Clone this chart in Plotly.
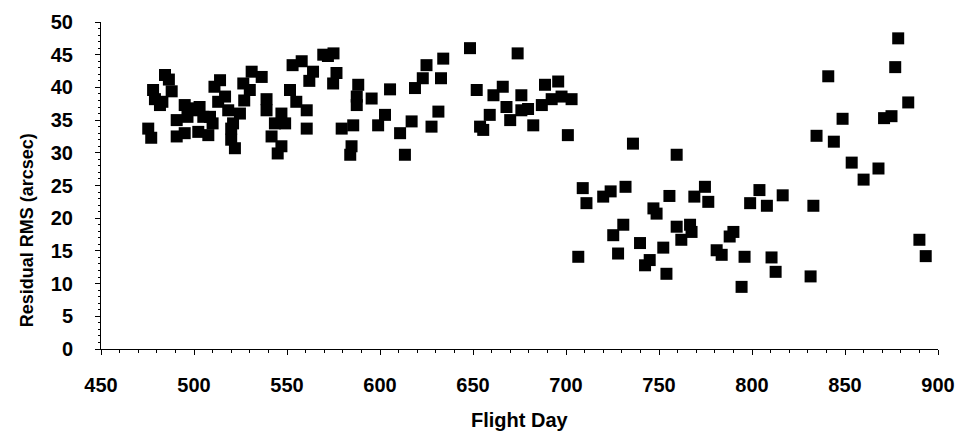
import plotly.graph_objects as go

# Flight day (x) and residual RMS in arcsec (y)
flight_day = [
    475.4, 477, 478, 479, 481.7, 484.4, 486.5, 488, 483, 490.7, 490.7, 495, 495, 496.5, 500.5,
    502.3, 503, 505, 507.7, 508.6, 511, 514, 516.7, 518.4, 520, 520, 522, 521, 524.7, 526.5,
    530, 531, 536.4, 539, 539, 541.7, 543.5, 545, 547, 547, 549, 551.6, 553, 555, 557.9,
    560.6, 560.6, 564, 562, 569.5, 575, 576.6, 574.8, 572, 579.4, 585.6, 584.7, 584, 587.5,
    588.3, 587.5, 595.5, 599, 602.7, 605.4, 610.8, 613.4, 617, 618.8, 623, 625, 627.7, 631.4,
    632.8, 634, 648.4, 652, 653.8, 655.5, 659, 661, 666, 668, 670, 674, 676, 676, 679.6,
    682.4, 687, 688.7, 692.3, 695.8, 697.6, 703, 701, 513, 510, 498, 527,
    706.6, 709, 711, 720, 724, 725.4, 728, 730.8, 732, 736, 739.8, 742.5, 745, 747, 748.7,
    752.3, 754, 755.6, 759.5, 759.5, 762, 766.7, 767.5, 769, 774.7, 776.5, 781, 783.7, 788,
    790, 794.4, 796, 799, 804, 808, 810.5, 812.7, 816.5, 831.5, 833, 834.7, 841, 844, 848.7,
    853.6, 860, 868, 871, 875, 877, 878.6, 884, 890, 893.4,
]
residual_rms = [
    33.7, 32.3, 39.6, 38.2, 37.3, 41.9, 41.2, 39.4, 37.8, 35.0, 32.5, 37.3, 33.0, 35.5, 36.5,
    33.2, 37.0, 35.5, 32.7, 35.5, 40.1, 41.1, 38.6, 36.5, 33.7, 32.0, 30.7, 34.5, 36.0, 40.6,
    39.6, 42.4, 41.6, 38.2, 36.5, 32.5, 34.5, 29.9, 31.0, 36.0, 34.5, 39.6, 43.4, 37.8, 44.0,
    36.5, 33.7, 42.4, 41.0, 45.0, 45.2, 42.2, 40.6, 44.8, 33.7, 34.2, 31.0, 29.7, 38.6,
    40.4, 37.3, 38.3, 34.2, 35.8, 39.7, 33.0, 29.7, 34.8, 39.9, 41.4, 43.4, 34.0, 36.3,
    41.4, 44.4, 46.0, 39.6, 34.0, 33.5, 35.8, 38.8, 40.1, 37.0, 35.0, 45.2, 38.8, 36.5, 36.7,
    34.2, 37.3, 40.4, 38.2, 40.9, 38.6, 38.2, 32.7, 37.8, 34.5, 36.8, 38.0,
    14.1, 24.6, 22.3, 23.3, 24.1, 17.4, 14.6, 19.0, 24.8, 31.4, 16.2, 12.8, 13.6, 21.5, 20.7,
    15.5, 11.5, 23.4, 29.7, 18.7, 16.7, 19.0, 17.9, 23.3, 24.8, 22.5, 15.1, 14.4, 17.2,
    17.9, 9.5, 14.1, 22.3, 24.3, 21.9, 14.0, 11.8, 23.5, 11.1, 21.9, 32.6, 41.7, 31.7, 35.2,
    28.5, 25.9, 27.6, 35.3, 35.6, 43.1, 47.5, 37.7, 16.7, 14.2,
]

x_ticks = [450, 500, 550, 600, 650, 700, 750, 800, 850, 900]
y_ticks = [0, 5, 10, 15, 20, 25, 30, 35, 40, 45, 50]

FONT = "Liberation Sans, Arial, sans-serif"

fig = go.Figure(
    go.Scatter(
        x=flight_day,
        y=residual_rms,
        mode="markers",
        marker=dict(symbol="square", size=12, color="black", line=dict(width=0)),
        showlegend=False,
    )
)

# The page body adds an 8px offset, so the figure is sized to fit the window.
fig.update_layout(
    width=956,
    height=428,
    margin=dict(l=93, r=26, t=14, b=87),
    paper_bgcolor="white",
    plot_bgcolor="white",
    font=dict(family=FONT, color="black"),
    xaxis=dict(
        range=[450, 900],
        tickvals=x_ticks,
        ticktext=[str(v) for v in x_ticks],
        automargin=False,
        showgrid=False,
        zeroline=False,
        showline=True,
        linecolor="black",
        linewidth=1,
        ticks="outside",
        ticklen=5,
        tickcolor="black",
        tickfont=dict(family=FONT, size=20, weight="bold"),
        ticklabelstandoff=13,
        minor=dict(dtick=10, ticks="outside", ticklen=3, tickcolor="black"),
    ),
    yaxis=dict(
        range=[0, 50],
        tickvals=y_ticks,
        ticktext=[str(v) for v in y_ticks],
        automargin=False,
        showgrid=False,
        zeroline=False,
        showline=True,
        linecolor="black",
        linewidth=1,
        ticks="outside",
        ticklen=5,
        tickcolor="black",
        tickfont=dict(family=FONT, size=20, weight="bold"),
        ticklabelstandoff=18,
        minor=dict(dtick=1, ticks="outside", ticklen=2, tickcolor="black"),
    ),
    annotations=[
        dict(
            text="Residual RMS (arcsec)",
            xref="paper", yref="paper",
            x=-0.088, y=0.364,
            xanchor="center", yanchor="middle",
            textangle=-90,
            showarrow=False,
            font=dict(family=FONT, size=18, weight="bold", color="black"),
        ),
        dict(
            text="Flight Day",
            xref="paper", yref="paper",
            x=0.5, y=-0.217,
            xanchor="center", yanchor="middle",
            showarrow=False,
            font=dict(family=FONT, size=20, weight="bold", color="black"),
        ),
    ],
)

fig.write_html("out.html")
